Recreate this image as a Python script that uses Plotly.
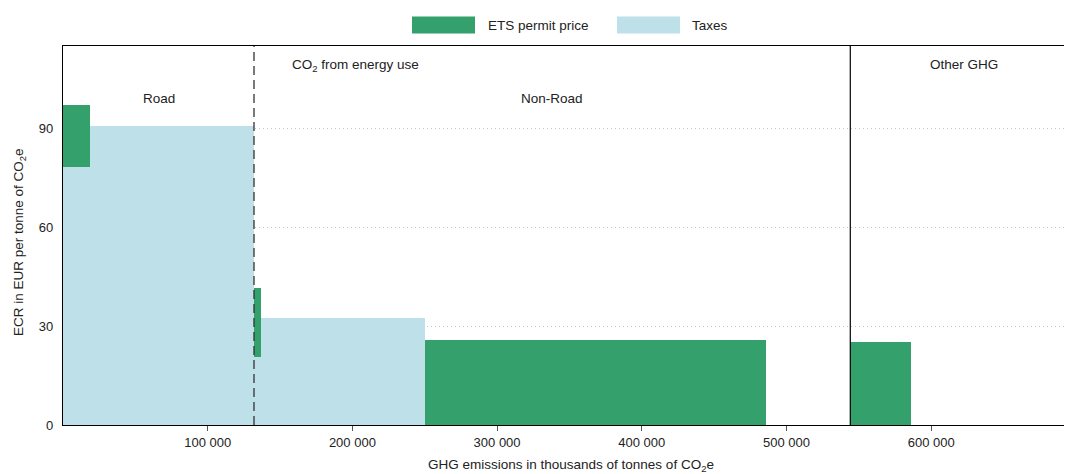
import numpy as np
import plotly.graph_objects as go

# Emission segments (thousand tonnes CO2e), in cumulative order along the x axis
segment_emissions = [18660, 113340, 4800, 113400, 235400, 58500, 41900, 105800]
segment_group = ["Road", "Road", "Non-Road", "Non-Road", "Non-Road", "Non-Road", "Other GHG", "Other GHG"]
# Effective carbon rate components (EUR per tonne CO2e)
tax_rate = [78.2, 90.7, 20.5, 32.6, 0, 0, 0, 0]
ets_price = [18.9, 0, 21.1, 0, 25.8, 0, 25.3, 0]

y_ticks = [0, 30, 60, 90]
x_ticks = [100000, 200000, 300000, 400000, 500000, 600000]
x_tick_labels = ["100 000", "200 000", "300 000", "400 000", "500 000", "600 000"]

GREEN = "rgb(52,160,108)"
LIGHT_BLUE = "rgb(190,224,233)"
FONT = "Liberation Sans, Arial, sans-serif"

widths = np.array(segment_emissions, dtype=float)
right_edges = np.cumsum(widths)
left_edges = right_edges - widths
centers = left_edges + widths / 2
total = right_edges[-1]

fig = go.Figure()
fig.add_trace(go.Bar(
    x=centers, y=tax_rate, width=widths, base=0,
    marker=dict(color=LIGHT_BLUE, line=dict(width=0)),
    name="Taxes", showlegend=False, hoverinfo="skip",
))
fig.add_trace(go.Bar(
    x=centers, y=ets_price, width=widths, base=tax_rate,
    marker=dict(color=GREEN, line=dict(width=0)),
    name="ETS permit price", showlegend=False, hoverinfo="skip",
))

# Boundaries between sector groups
road_end = right_edges[max(i for i, g in enumerate(segment_group) if g == "Road")]
energy_end = right_edges[max(i for i, g in enumerate(segment_group) if g == "Non-Road")]
fig.add_shape(type="line", xref="x", yref="paper", x0=road_end, x1=road_end, y0=0, y1=1,
              line=dict(color="#333333", width=1.3, dash="9px,5px"), layer="above")
fig.add_shape(type="line", xref="x", yref="paper", x0=energy_end, x1=energy_end, y0=0, y1=1,
              line=dict(color="black", width=1.2), layer="above")

txt = dict(family=FONT, size=13.5, color="#222222")
W, H = 1065, 474
ml, mr, mt, mb = 63, 1, 45.5, 48.5
pw, ph = W - ml - mr, H - mt - mb


def py(pixel_y):
    """Paper y for a pixel row counted from the top of the figure."""
    return (H - mb - pixel_y) / ph


def px(pixel_x):
    return (pixel_x - ml) / pw


def label(x, y, text, xref="x", **kw):
    fig.add_annotation(x=x, y=y, xref=xref, yref="paper", text=text, showarrow=False,
                       xanchor=kw.pop("xanchor", "center"), yanchor="middle", font=txt, **kw)


label(road_end / 2, py(98), "Road")
label((road_end + energy_end) / 2, py(98), "Non-Road")
label(202000, py(65), "CO<sub>2</sub> from energy use")
label((energy_end + total) / 2 + 5000, py(64), "Other GHG")

# Axis titles
label(px(571), py(466), "GHG emissions in thousands of tonnes of CO<sub>2</sub>e", xref="paper")
label(px(20), py(242), "ECR in EUR per tonne of CO<sub>2</sub>e", xref="paper", textangle=-90)

# Legend drawn as wide swatches above the plot
legend_items = [("ETS permit price", GREEN, 412, 486), ("Taxes", LIGHT_BLUE, 617, 690)]
for name, color, sx, tx in legend_items:
    fig.add_shape(type="rect", xref="paper", yref="paper",
                  x0=px(sx), x1=px(sx + 63), y0=py(33), y1=py(16),
                  line=dict(width=0), fillcolor=color)
    label(px(tx), py(25), name, xref="paper", xanchor="left")

fig.update_layout(
    width=W, height=H,
    margin=dict(l=ml, r=mr, t=mt, b=mb, pad=0),
    barmode="overlay", bargap=0,
    plot_bgcolor="white", paper_bgcolor="white",
    font=dict(family=FONT, size=13, color="#222222"),
    showlegend=False,
)
fig.update_xaxes(
    range=[0, total], tickvals=x_ticks, ticktext=x_tick_labels,
    showline=True, linecolor="black", linewidth=1.2, mirror=True,
    ticks="outside", ticklen=5, tickcolor="#555555", tickwidth=1,
    showgrid=False, zeroline=False, fixedrange=True,
    tickfont=dict(family=FONT, size=13, color="#222222"),
)
fig.update_yaxes(
    range=[0, 115], tickvals=y_ticks,
    showline=True, linecolor="black", linewidth=1.2,
    ticks="", showgrid=True, gridcolor="#c8c8c8", griddash="1px,3px", gridwidth=1,
    zeroline=False, fixedrange=True, ticklabelstandoff=6,
    tickfont=dict(family=FONT, size=13, color="#222222"),
)

fig.write_html("out.html")
